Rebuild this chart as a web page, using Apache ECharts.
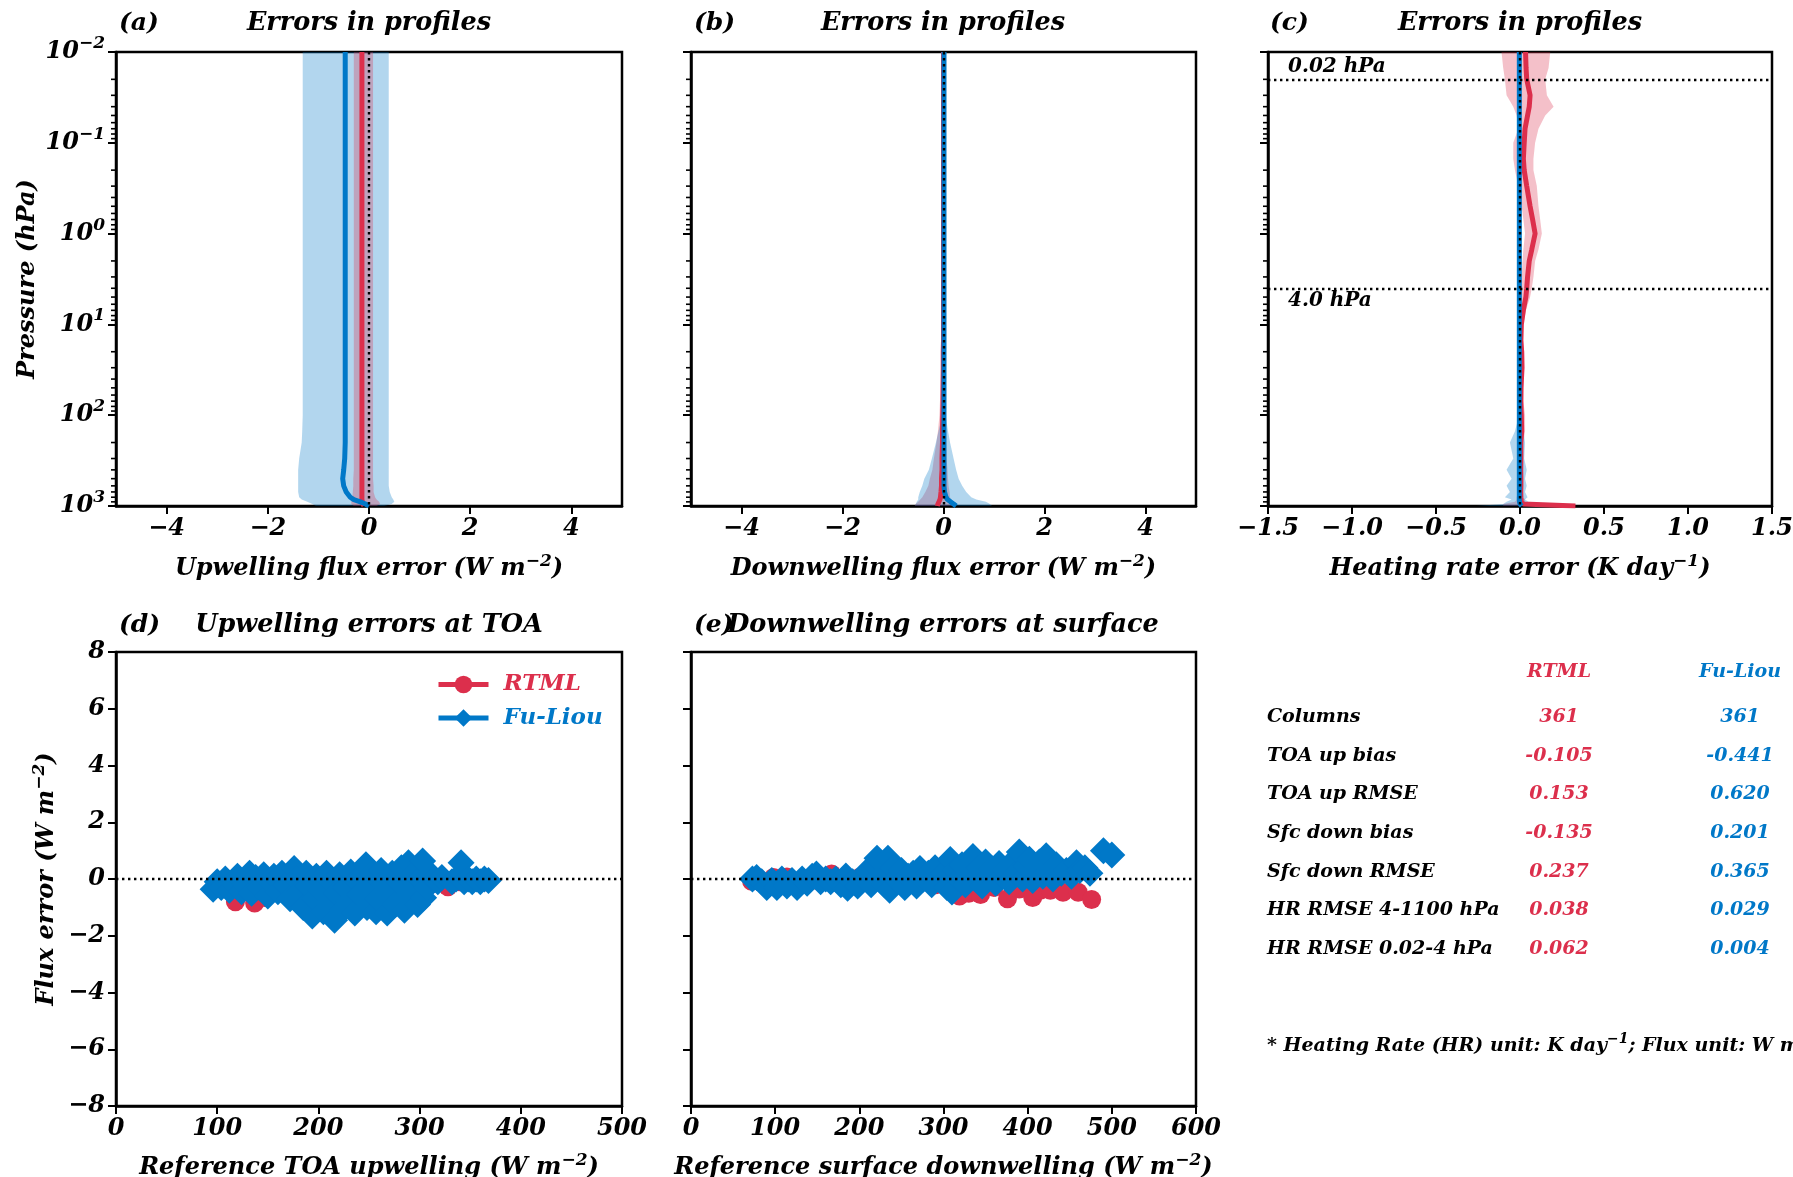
<!DOCTYPE html>
<html>
<head>
<meta charset="utf-8">
<script src="https://cdn.jsdelivr.net/npm/echarts@6/dist/echarts.min.js"></script>
<style>
  html, body { margin: 0; padding: 0; background: #fff; }
  #chart { width: 1793px; height: 1177px; }
</style>
</head>
<body>
<div id="chart"></div>
<script>
const RED = '#dc2f4c'
const BLUE = '#0078c8'
const RED_FILL = 'rgba(220,47,76,0.3)'
const BLUE_FILL = 'rgba(0,120,200,0.3)'
const FONT = "'DejaVu Serif', serif"

// pressure levels (hPa), shared by the three profile panels
const pres = [0.01, 0.015, 0.02, 0.03, 0.04, 0.05, 0.07, 0.1, 0.15, 0.2,
  0.3, 0.5, 0.7, 1, 1.5, 2, 3, 4, 5, 7,
  10, 15, 20, 30, 50, 70, 100, 150, 200, 300,
  400, 500, 600, 700, 800, 850, 900, 950, 1000]

// (a) upwelling flux error
const upRtmlMean = [-0.14, -0.14, -0.14, -0.14, -0.14, -0.14, -0.14, -0.14, -0.14, -0.14,
  -0.14, -0.14, -0.14, -0.14, -0.14, -0.14, -0.14, -0.14, -0.14, -0.14,
  -0.14, -0.14, -0.14, -0.14, -0.14, -0.14, -0.14, -0.14, -0.14, -0.14,
  -0.14, -0.14, -0.14, -0.14, -0.14, -0.14, -0.13, -0.12, -0.10]
const upRtmlLo = [-0.30, -0.30, -0.30, -0.30, -0.30, -0.30, -0.30, -0.30, -0.30, -0.30,
  -0.30, -0.30, -0.30, -0.30, -0.30, -0.30, -0.30, -0.30, -0.30, -0.30,
  -0.30, -0.30, -0.30, -0.30, -0.30, -0.30, -0.30, -0.30, -0.30, -0.30,
  -0.30, -0.31, -0.31, -0.32, -0.33, -0.34, -0.35, -0.35, -0.30]
const upRtmlHi = [0.08, 0.08, 0.08, 0.08, 0.08, 0.08, 0.08, 0.08, 0.08, 0.08,
  0.08, 0.08, 0.08, 0.08, 0.08, 0.08, 0.08, 0.08, 0.08, 0.08,
  0.08, 0.08, 0.08, 0.08, 0.08, 0.08, 0.08, 0.08, 0.08, 0.08,
  0.08, 0.08, 0.09, 0.09, 0.12, 0.15, 0.20, 0.22, 0.15]
const upFlMean = [-0.47, -0.47, -0.47, -0.47, -0.47, -0.47, -0.47, -0.47, -0.47, -0.47,
  -0.47, -0.47, -0.47, -0.47, -0.47, -0.47, -0.47, -0.47, -0.47, -0.47,
  -0.47, -0.47, -0.47, -0.47, -0.47, -0.47, -0.47, -0.47, -0.47, -0.48,
  -0.50, -0.52, -0.50, -0.45, -0.37, -0.30, -0.17, -0.07, 0.00]
const upFlLo = [-1.31, -1.31, -1.31, -1.31, -1.31, -1.31, -1.31, -1.31, -1.31, -1.31,
  -1.31, -1.31, -1.31, -1.31, -1.31, -1.31, -1.31, -1.31, -1.31, -1.31,
  -1.31, -1.31, -1.31, -1.31, -1.31, -1.31, -1.31, -1.32, -1.33, -1.38,
  -1.40, -1.40, -1.40, -1.40, -1.38, -1.33, -1.22, -1.12, -1.05]
const upFlHi = [0.39, 0.39, 0.39, 0.39, 0.39, 0.39, 0.39, 0.39, 0.39, 0.39,
  0.39, 0.39, 0.39, 0.39, 0.39, 0.39, 0.39, 0.39, 0.39, 0.39,
  0.39, 0.39, 0.39, 0.39, 0.39, 0.39, 0.39, 0.39, 0.39, 0.39,
  0.39, 0.39, 0.39, 0.41, 0.45, 0.48, 0.50, 0.45, 0.30]

// (b) downwelling flux error
const dnRtmlMean = [0, 0, 0, 0, 0, 0, 0, 0, 0, 0,
  0, 0, 0, 0, 0, 0, 0, 0, 0, 0,
  0, 0, -0.005, -0.005, -0.01, -0.01, -0.015, -0.02, -0.02, -0.03,
  -0.03, -0.04, -0.04, -0.05, -0.06, -0.07, -0.09, -0.11, -0.12]
const dnRtmlLo = [0, 0, 0, 0, 0, 0, 0, 0, 0, 0,
  0, 0, 0, 0, 0, 0, 0, 0, 0, -0.003,
  -0.005, -0.01, -0.03, -0.04, -0.05, -0.07, -0.08, -0.11, -0.14, -0.19,
  -0.22, -0.27, -0.30, -0.36, -0.42, -0.46, -0.50, -0.55, -0.57]
const dnRtmlHi = [0, 0, 0, 0, 0, 0, 0, 0, 0, 0,
  0, 0, 0, 0, 0, 0, 0, 0, 0, 0,
  0.003, 0.005, 0.01, 0.01, 0.015, 0.02, 0.03, 0.04, 0.05, 0.06,
  0.08, 0.09, 0.10, 0.12, 0.13, 0.14, 0.15, 0.18, 0.20]
const dnFlMean = [0.01, 0.01, 0.01, 0.01, 0.01, 0.01, 0.01, 0.01, 0.01, 0.01,
  0.01, 0.01, 0.01, 0.01, 0.01, 0.01, 0.01, 0.01, 0.01, 0.01,
  0.01, 0.01, 0.01, 0.01, 0.01, 0.01, 0.01, 0.01, 0.01, 0.01,
  0.01, 0.01, 0.01, 0.02, 0.05, 0.08, 0.14, 0.20, 0.25]
const dnFlLo = [0, 0, 0, 0, 0, 0, 0, 0, 0, 0,
  0, 0, 0, 0, 0, 0, 0, 0, 0, 0,
  0, 0, 0, 0, 0, 0, -0.02, -0.10, -0.15, -0.23,
  -0.29, -0.38, -0.42, -0.47, -0.50, -0.50, -0.53, -0.55, -0.57]
const dnFlHi = [0.02, 0.02, 0.02, 0.02, 0.02, 0.02, 0.02, 0.02, 0.02, 0.02,
  0.02, 0.02, 0.02, 0.02, 0.02, 0.02, 0.02, 0.02, 0.02, 0.02,
  0.02, 0.02, 0.02, 0.02, 0.02, 0.02, 0.04, 0.09, 0.13, 0.20,
  0.25, 0.30, 0.37, 0.45, 0.55, 0.65, 0.84, 0.92, 0.96]

// (c) heating rate error
const hrRtmlMean = [0.033, 0.036, 0.04, 0.06, 0.055, 0.045, 0.03, 0.025, 0.02, 0.025,
  0.04, 0.06, 0.075, 0.09, 0.07, 0.055, 0.045, 0.04, 0.035, 0.02,
  0.008, 0.005, 0.01, 0.012, 0.006, 0.005, 0.008, 0.01, 0.005, 0.005,
  0.004, 0.005, 0.005, 0.004, 0.005, 0.006, 0.008, 0.02, 0.33]
const hrRtmlLo = [-0.11, -0.10, -0.09, -0.08, -0.04, -0.02, -0.01, -0.04, -0.04, -0.03,
  -0.01, 0.01, 0.02, 0.03, 0.02, 0.015, 0.01, 0.005, 0.0, -0.01,
  -0.01, -0.01, -0.005, -0.005, -0.01, -0.01, -0.01, -0.005, -0.01, -0.01,
  -0.01, -0.01, -0.01, -0.01, -0.02, -0.02, -0.03, -0.10, -0.10]
const hrRtmlHi = [0.18, 0.17, 0.15, 0.16, 0.20, 0.15, 0.11, 0.09, 0.08, 0.08,
  0.10, 0.11, 0.12, 0.13, 0.11, 0.09, 0.08, 0.07, 0.06, 0.035,
  0.02, 0.02, 0.025, 0.025, 0.02, 0.02, 0.03, 0.03, 0.02, 0.02,
  0.02, 0.02, 0.02, 0.02, 0.02, 0.03, 0.03, 0.05, 0.33]
const hrFlMean = [-0.004, -0.004, -0.004, -0.004, -0.004, -0.004, -0.004, -0.004, -0.004, -0.004,
  -0.004, -0.004, -0.004, -0.004, -0.004, -0.004, -0.004, -0.004, -0.004, -0.004,
  -0.004, -0.004, -0.004, -0.004, -0.004, -0.004, -0.004, -0.004, -0.004, -0.004,
  -0.004, -0.004, -0.004, -0.004, -0.004, -0.004, -0.003, 0.0, 0.01]
const hrFlLo = [-0.006, -0.006, -0.006, -0.006, -0.006, -0.006, -0.006, -0.006, -0.006, -0.006,
  -0.006, -0.006, -0.006, -0.006, -0.006, -0.006, -0.006, -0.006, -0.006, -0.006,
  -0.006, -0.006, -0.006, -0.006, -0.006, -0.006, -0.006, -0.03, -0.06, -0.04,
  -0.08, -0.05, -0.08, -0.06, -0.09, -0.05, -0.08, -0.10, -0.26]
const hrFlHi = [0, 0, 0, 0, 0, 0, 0, 0, 0, 0,
  0, 0, 0, 0, 0, 0, 0, 0, 0, 0,
  0, 0, 0, 0, 0, 0, 0, 0.02, 0.03, 0.025,
  0.04, 0.03, 0.04, 0.03, 0.045, 0.03, 0.05, 0.06, 0.11]

// (d) TOA upwelling errors: [reference flux, error]
const toaRtml = [[100, -0.3], [110, -0.35], [118, -0.8], [125, -0.3], [137, -0.85], [147, -0.65],
  [155, -0.2], [165, -0.1], [175, -0.2], [185, -0.1], [195, -0.15], [205, 0.0], [215, -0.1],
  [225, -0.2], [235, -0.1], [245, 0.0], [255, -0.15], [265, -0.1], [275, -0.05], [285, -0.2],
  [295, -0.1], [305, -0.4], [315, -0.15], [328, -0.27], [340, -0.1], [355, -0.05], [365, -0.1]]
const toaFuliou = [[96, -0.36], [100, -0.1], [104, -0.3], [108, 0.0], [112, -0.4], [116, -0.15],
  [120, 0.1], [124, -0.45], [128, -0.2], [132, 0.2], [134, -0.5], [138, 0.05], [142, -0.3],
  [146, 0.15], [150, -0.6], [152, -0.1], [156, 0.1], [160, -0.45], [164, 0.2], [168, -0.2],
  [172, -0.7], [176, 0.37], [178, 0.0], [182, -0.45], [185, -1.0], [188, 0.2], [190, -0.25],
  [194, -1.3], [196, -0.7], [198, 0.1], [202, -0.4], [205, -1.15], [208, 0.2], [210, -0.85],
  [213, -0.1], [216, -1.45], [218, -0.5], [221, 0.15], [224, -1.1], [227, -0.3], [230, -0.8],
  [232, 0.25], [236, -1.2], [238, -0.05], [241, -0.55], [244, 0.1], [247, 0.5], [248, -1.0],
  [251, -0.3], [254, 0.2], [257, -1.15], [259, -0.7], [262, 0.3], [265, -0.2], [268, -1.2],
  [270, -0.5], [273, 0.2], [276, -0.9], [279, -0.1], [282, 0.4], [285, -1.1], [288, -0.6],
  [289, 0.57], [292, -0.3], [295, 0.2], [298, -0.9], [300, 0.0], [303, 0.63], [304, -0.66],
  [307, -0.3], [310, 0.2], [314, 0.0], [318, -0.1], [322, 0.05], [332, -0.1], [336, 0.0],
  [341, 0.57], [344, -0.1], [348, 0.0], [352, -0.1], [356, 0.0], [360, -0.1], [364, 0.0], [368, -0.05]]

// (e) surface downwelling errors: [reference flux, error]
const sfcRtml = [[72, -0.08], [80, -0.05], [98, 0.05], [114, 0.07], [130, -0.1], [150, -0.05],
  [167, 0.18], [190, 0.0], [200, 0.05], [215, -0.1], [240, -0.2], [255, -0.25], [270, -0.15],
  [290, -0.2], [305, -0.25], [319, -0.6], [330, -0.5], [344, -0.55], [360, -0.3], [376, -0.7],
  [390, -0.35], [406, -0.65], [415, -0.4], [427, -0.4], [442, -0.47], [460, -0.47], [476, -0.72]]
const sfcFuliou = [[73, 0.0], [78, 0.05], [84, -0.1], [90, -0.3], [96, -0.05], [102, -0.3],
  [108, 0.0], [114, -0.25], [120, -0.05], [126, -0.3], [132, 0.0], [138, -0.15], [144, 0.1],
  [149, 0.18], [154, -0.1], [160, 0.0], [166, -0.1], [172, 0.0], [178, -0.2], [184, 0.11],
  [186, -0.33], [192, -0.1], [198, -0.25], [204, 0.0], [210, 0.3], [214, -0.2], [218, 0.5],
  [221, 0.73], [226, 0.1], [230, -0.2], [234, 0.73], [236, -0.4], [240, 0.4], [244, 0.0],
  [250, 0.3], [254, -0.3], [258, 0.1], [264, 0.2], [268, -0.25], [272, 0.37], [276, 0.0],
  [282, 0.2], [286, -0.2], [290, 0.4], [294, 0.0], [300, 0.2], [304, -0.3], [308, 0.69],
  [310, -0.46], [314, 0.3], [318, 0.0], [322, 0.5], [326, -0.2], [330, 0.2], [335, 0.79],
  [338, 0.0], [342, 0.4], [346, -0.25], [350, 0.6], [354, 0.1], [358, 0.35], [362, -0.15],
  [366, 0.55], [370, 0.1], [374, 0.3], [378, -0.1], [382, 0.6], [386, 0.2], [390, 0.95],
  [394, 0.0], [398, 0.45], [402, 0.7], [406, -0.05], [410, 0.3], [414, 0.6], [418, 0.1],
  [422, 0.82], [426, 0.35], [430, 0.0], [434, 0.5], [440, 0.2], [446, 0.3], [452, 0.1],
  [458, 0.57], [462, 0.3], [468, 0.4], [474, 0.2], [490, 1.0], [500, 0.85]]

// tick values
const majorPres = [0.01, 0.1, 1, 10, 100, 1000]
const minorPres = [0.02, 0.03, 0.04, 0.05, 0.06, 0.07, 0.08, 0.09,
  0.2, 0.3, 0.4, 0.5, 0.6, 0.7, 0.8, 0.9,
  2, 3, 4, 5, 6, 7, 8, 9,
  20, 30, 40, 50, 60, 70, 80, 90,
  200, 300, 400, 500, 600, 700, 800, 900]
const fluxTicks = [-4, -2, 0, 2, 4]
const hrTicks = [-1.5, -1.0, -0.5, 0, 0.5, 1.0, 1.5]
const errTicks = [-8, -6, -4, -2, 0, 2, 4, 6, 8]
const toaTicks = [0, 100, 200, 300, 400, 500]
const sfcTicks = [0, 100, 200, 300, 400, 500, 600]

// statistics table
const statRows = ['Columns', 'TOA up bias', 'TOA up RMSE', 'Sfc down bias', 'Sfc down RMSE',
  'HR RMSE 4-1100 hPa', 'HR RMSE 0.02-4 hPa']
const rtmlStats = ['361', '-0.105', '0.153', '-0.135', '0.237', '0.038', '0.062']
const fuliouStats = ['361', '-0.441', '0.620', '0.201', '0.365', '0.029', '0.004']

const chart = echarts.init(document.getElementById('chart'))

const bi = { fontFamily: FONT, fontWeight: 'bold', fontStyle: 'italic', color: '#000' }
const sup = Object.assign({ fontSize: 17, verticalAlign: 'top', lineHeight: 17 }, bi)
const nameStyle = Object.assign({ fontSize: 24, lineHeight: 32, rich: { s: sup } }, bi)

const minus = (s) => s.replace('-', '\u2212')
const fmtInt = (v) => minus(String(v))
const fmt1 = (v) => minus(Number(v).toFixed(1))
const fmtPow = (v) => {
  const e = Math.round(Math.log10(v))
  return '{b|10}{s|' + minus(String(e)) + '}'
}

function xAxisOf(gridIndex, min, max, ticks, fmt, name, nameGap) {
  return {
    type: 'value', gridIndex, min, max,
    axisLine: { show: true, onZero: false, lineStyle: { color: '#000', width: 2.5 } },
    axisTick: { show: true, customValues: ticks, length: 8, lineStyle: { color: '#000', width: 2 } },
    axisLabel: Object.assign({ customValues: ticks, formatter: fmt, fontSize: 24, margin: 11 }, bi),
    splitLine: { show: false },
    name, nameLocation: 'middle', nameGap, nameTextStyle: nameStyle, nameMoveOverlap: false,
  }
}

function presAxis(gridIndex, showLabels, name) {
  return {
    type: 'log', logBase: 10, gridIndex, min: 0.01, max: 1000, inverse: true, position: 'left',
    axisLine: { show: true, onZero: false, lineStyle: { color: '#000', width: 2.5 } },
    axisTick: { show: true, customValues: majorPres, length: 8, lineStyle: { color: '#000', width: 2 } },
    axisLabel: {
      show: showLabels, customValues: majorPres, formatter: fmtPow, margin: 11,
      rich: { b: Object.assign({ fontSize: 24, lineHeight: 34 }, bi), s: sup },
    },
    splitLine: { show: false },
    name, nameLocation: 'middle', nameGap: 72, nameTextStyle: nameStyle, nameMoveOverlap: false,
  }
}

function errAxis(gridIndex, showLabels, name) {
  return {
    type: 'value', gridIndex, min: -8, max: 8, position: 'left',
    axisLine: { show: true, onZero: false, lineStyle: { color: '#000', width: 2.5 } },
    axisTick: { show: true, customValues: errTicks, length: 8, lineStyle: { color: '#000', width: 2 } },
    axisLabel: Object.assign({ show: showLabels, customValues: errTicks, formatter: fmtInt, fontSize: 24, margin: 11 }, bi),
    splitLine: { show: false },
    name, nameLocation: 'middle', nameGap: 53, nameTextStyle: nameStyle, nameMoveOverlap: false,
  }
}

// short outward minor ticks on the log pressure axis, placed through the axis scale
function minorTicks(xi, yi, xmin) {
  return {
    type: 'custom', xAxisIndex: xi, yAxisIndex: yi, silent: true, clip: false,
    data: minorPres.map((p) => [xmin, p]),
    encode: { x: 0, y: 1 },
    renderItem: (params, api) => {
      const pt = api.coord([api.value(0), api.value(1)])
      return {
        type: 'line',
        shape: { x1: pt[0] - 5, y1: pt[1], x2: pt[0], y2: pt[1] },
        style: { stroke: '#000', lineWidth: 1.6 },
      }
    },
  }
}

function band(xi, yi, lo, hi, color) {
  return {
    type: 'custom', xAxisIndex: xi, yAxisIndex: yi, silent: true,
    data: pres.map((p, i) => [lo[i], p, hi[i]]),
    encode: { x: [0, 2], y: 1 },
    renderItem: (params, api) => {
      if (params.dataIndex !== 0) return null
      const pts = []
      for (let i = 0; i < pres.length; i++) pts.push(api.coord([lo[i], pres[i]]))
      for (let i = pres.length - 1; i >= 0; i--) pts.push(api.coord([hi[i], pres[i]]))
      return { type: 'polygon', shape: { points: pts }, style: { fill: color } }
    },
  }
}

function profile(xi, yi, vals, color, markLine) {
  const s = {
    type: 'line', xAxisIndex: xi, yAxisIndex: yi, silent: true,
    symbol: 'none', showSymbol: false,
    data: pres.map((p, i) => [vals[i], p]),
    lineStyle: { color, width: 5 }, itemStyle: { color },
  }
  if (markLine) s.markLine = markLine
  return s
}

const dotted = { color: '#000', type: [2.4, 3.6], width: 2.4 }
const zeroV = { silent: true, symbol: 'none', animation: false, label: { show: false }, lineStyle: dotted, data: [{ xAxis: 0 }] }
const zeroH = { silent: true, symbol: 'none', animation: false, label: { show: false }, lineStyle: dotted, data: [{ yAxis: 0 }] }
const hrLines = {
  silent: true, symbol: 'none', animation: false, lineStyle: dotted,
  label: Object.assign({ show: false, fontSize: 20, distance: [20, 3] }, bi),
  data: [
    { xAxis: 0, label: { show: false } },
    { yAxis: 0.02, label: { show: true, formatter: '0.02 hPa', position: 'insideStartTop' } },
    { yAxis: 4, label: { show: true, formatter: '4.0 hPa', position: 'insideStartBottom' } },
  ],
}

function scatter(name, xi, yi, data, symbol, size, color, markLine) {
  const s = {
    type: 'scatter', name: name + ' points', xAxisIndex: xi, yAxisIndex: yi, silent: true,
    symbol, symbolSize: size, data, itemStyle: { color, opacity: 1 },
  }
  if (markLine) s.markLine = markLine
  return s
}

function txt(text, x, y, size, color, align, extra) {
  return {
    type: 'text', x, y, silent: true,
    style: Object.assign({
      text, fontSize: size, fontFamily: FONT, fontWeight: 'bold', fontStyle: 'italic',
      fill: color || '#000', align: align || 'left', verticalAlign: 'middle',
    }, extra || {}),
  }
}

const graphics = [
  txt('(a)', 119, 23, 25), txt('Errors in profiles', 369, 23, 25.5, '#000', 'center'),
  txt('(b)', 694, 23, 25), txt('Errors in profiles', 943, 23, 25.5, '#000', 'center'),
  txt('(c)', 1270, 23, 25), txt('Errors in profiles', 1520, 23, 25.5, '#000', 'center'),
  txt('(d)', 119, 625, 25), txt('Upwelling errors at TOA', 369, 625, 25.5, '#000', 'center'),
  txt('(e)', 694, 625, 25), txt('Downwelling errors at surface', 943, 625, 25.5, '#000', 'center'),
  txt('RTML', 1559, 672, 19, RED, 'center'),
  txt('Fu-Liou', 1740, 672, 19, BLUE, 'center'),
]
statRows.forEach((r, i) => {
  const y = 717 + i * 38.7
  graphics.push(txt(r, 1267, y, 19))
  graphics.push(txt(rtmlStats[i], 1559, y, 19, RED, 'center'))
  graphics.push(txt(fuliouStats[i], 1740, y, 19, BLUE, 'center'))
})
graphics.push(txt('* Heating Rate (HR) unit: K day{s|\u22121}; Flux unit: W m{s|\u22122}', 1267, 1046, 19, '#000', 'left', {
  rich: { s: { fontSize: 14, fontFamily: FONT, fontWeight: 'bold', fontStyle: 'italic', fill: '#000', verticalAlign: 'top', lineHeight: 14 } },
  lineHeight: 28,
}))

chart.setOption({
  animation: false,
  backgroundColor: '#fff',
  textStyle: { fontFamily: FONT },
  grid: [
    { left: 116, top: 52, width: 506, height: 454 },
    { left: 691, top: 52, width: 505, height: 454 },
    { left: 1268, top: 52, width: 504, height: 454 },
    { left: 116, top: 652, width: 506, height: 454 },
    { left: 691, top: 652, width: 505, height: 454 },
  ].map((g) => Object.assign({
    show: true, borderColor: '#000', borderWidth: 2.5, backgroundColor: 'transparent',
    containLabel: false, outerBoundsMode: 'none',
  }, g)),
  xAxis: [
    xAxisOf(0, -5, 5, fluxTicks, fmtInt, 'Upwelling flux error (W m{s|\u22122})', 47),
    xAxisOf(1, -5, 5, fluxTicks, fmtInt, 'Downwelling flux error (W m{s|\u22122})', 47),
    xAxisOf(2, -1.5, 1.5, hrTicks, fmt1, 'Heating rate error (K day{s|\u22121})', 47),
    xAxisOf(3, 0, 500, toaTicks, fmtInt, 'Reference TOA upwelling (W m{s|\u22122})', 46),
    xAxisOf(4, 0, 600, sfcTicks, fmtInt, 'Reference surface downwelling (W m{s|\u22122})', 46),
  ],
  yAxis: [
    presAxis(0, true, 'Pressure (hPa)'),
    presAxis(1, false, ''),
    presAxis(2, false, ''),
    errAxis(3, true, 'Flux error (W m{s|\u22122})'),
    errAxis(4, false, ''),
  ],
  legend: {
    show: true, left: 436, top: 673, orient: 'vertical', padding: 0,
    itemWidth: 50, itemHeight: 22, itemGap: 10.5, selectedMode: false,
    lineStyle: { width: 5 },
    textStyle: Object.assign({ fontSize: 23, padding: [0, 0, 0, 10] }, bi),
    data: [
      { name: 'RTML', textStyle: { color: RED } },
      { name: 'Fu-Liou', textStyle: { color: BLUE } },
    ],
  },
  graphic: graphics,
  series: [
    // legend entries (line with marker, like the reference legend)
    { type: 'line', name: 'RTML', xAxisIndex: 3, yAxisIndex: 3, data: [], symbol: 'circle',
      lineStyle: { color: RED, width: 5 }, itemStyle: { color: RED } },
    { type: 'line', name: 'Fu-Liou', xAxisIndex: 3, yAxisIndex: 3, data: [], symbol: 'diamond',
      lineStyle: { color: BLUE, width: 5 }, itemStyle: { color: BLUE } },

    // (a)
    band(0, 0, upFlLo, upFlHi, BLUE_FILL),
    band(0, 0, upRtmlLo, upRtmlHi, RED_FILL),
    profile(0, 0, upRtmlMean, RED),
    profile(0, 0, upFlMean, BLUE, zeroV),
    minorTicks(0, 0, -5),

    // (b)
    band(1, 1, dnRtmlLo, dnRtmlHi, RED_FILL),
    band(1, 1, dnFlLo, dnFlHi, BLUE_FILL),
    profile(1, 1, dnRtmlMean, RED),
    profile(1, 1, dnFlMean, BLUE, zeroV),
    minorTicks(1, 1, -5),

    // (c)
    band(2, 2, hrRtmlLo, hrRtmlHi, RED_FILL),
    band(2, 2, hrFlLo, hrFlHi, BLUE_FILL),
    profile(2, 2, hrRtmlMean, RED),
    profile(2, 2, hrFlMean, BLUE, hrLines),
    minorTicks(2, 2, -1.5),

    // (d)
    scatter('RTML', 3, 3, toaRtml, 'circle', 19, RED),
    scatter('Fu-Liou', 3, 3, toaFuliou, 'diamond', 27, BLUE, zeroH),

    // (e)
    scatter('RTML', 4, 4, sfcRtml, 'circle', 19, RED),
    scatter('Fu-Liou', 4, 4, sfcFuliou, 'diamond', 27, BLUE, zeroH),
  ],
})

window.addEventListener('resize', () => chart.resize())
</script>
</body>
</html>
